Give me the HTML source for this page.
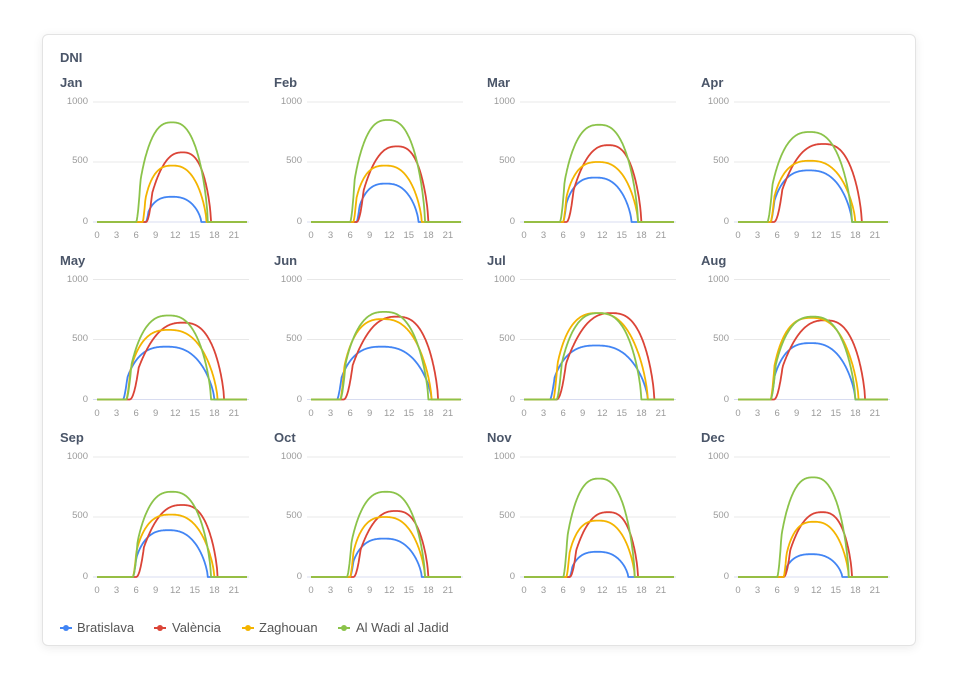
<!DOCTYPE html>
<html><head><meta charset="utf-8"><style>
body{margin:0;width:960px;height:691px;background:#fff;font-family:"Liberation Sans",Arial,sans-serif;position:relative;overflow:hidden}
.card{position:absolute;left:42px;top:34px;width:872px;height:610px;border:1px solid #e3e3e3;border-radius:6px;box-shadow:0 2px 10px rgba(0,0,0,0.08);background:#fff}
.p{position:absolute;width:214px;height:178px}
.t{position:absolute;left:60px;top:75px;font-size:13px;font-weight:bold;color:#4a5568}
.yl{position:absolute;font-size:9.5px;color:#9a9a9a;width:40px;text-align:right;left:48px}
.xl{position:absolute;top:230px;font-size:9.5px;color:#9a9a9a;width:20px;text-align:center}
.h{position:absolute;font-size:13px;font-weight:bold;color:#4a5568}
.lg{position:absolute;top:620px;font-size:13px;color:#555}
.mk{position:absolute;top:627px;width:12px;height:2px}
.mk:after{content:"";position:absolute;left:3px;top:-2px;width:6px;height:6px;border-radius:3px;background:inherit}
svg{position:absolute;left:0;top:0}
</style></head><body>
<div class="card"></div>
<div class="h" style="left:60px;top:50px">DNI</div>
<svg id="s" width="960" height="691"></svg>
<div class="mk" style="left:60px;background:#4285f4"></div><div class="lg" style="left:77px">Bratislava</div>
<div class="mk" style="left:154px;background:#db4437"></div><div class="lg" style="left:172px">València</div>
<div class="mk" style="left:242px;background:#f4b400"></div><div class="lg" style="left:259px">Zaghouan</div>
<div class="mk" style="left:338px;background:#8bc34a"></div><div class="lg" style="left:356px">Al Wadi al Jadid</div>

<div class="p" style="left:0;top:0"><div class="t">Jan</div></div>
<div class="p" style="left:214px;top:0"><div class="t">Feb</div></div>
<div class="p" style="left:427px;top:0"><div class="t">Mar</div></div>
<div class="p" style="left:641px;top:0"><div class="t">Apr</div></div>
<div class="p" style="left:0;top:177.5px"><div class="t">May</div></div>
<div class="p" style="left:214px;top:177.5px"><div class="t">Jun</div></div>
<div class="p" style="left:427px;top:177.5px"><div class="t">Jul</div></div>
<div class="p" style="left:641px;top:177.5px"><div class="t">Aug</div></div>
<div class="p" style="left:0;top:355px"><div class="t">Sep</div></div>
<div class="p" style="left:214px;top:355px"><div class="t">Oct</div></div>
<div class="p" style="left:427px;top:355px"><div class="t">Nov</div></div>
<div class="p" style="left:641px;top:355px"><div class="t">Dec</div></div>

<script>
var axis='<div class="yl" style="top:96px">1000</div><div class="yl" style="top:155px">500</div><div class="yl" style="top:216px">0</div>';
[0,3,6,9,12,15,18,21].forEach(function(h){axis+='<div class="xl" style="left:'+(87+h*6.52)+'px">'+h+'</div>';});
document.querySelectorAll('.p').forEach(function(p){p.insertAdjacentHTML('beforeend',axis);});
var cols=[0,214,427,641],rows=[0,177.5,355];
var cl=['#4285f4','#db4437','#f4b400','#8bc34a'];
var D=[
[[7.5,16,210],[7.5,17.5,580],[7,16.8,470],[6,17,830]],
[[7,16.5,320],[7,18,630],[6.5,17,470],[6,17.5,850]],
[[6,16.5,370],[6.5,18,640],[6,17.5,500],[5.5,17.5,810]],
[[5,17.5,430],[5.5,19,650],[5,18,510],[4.5,17.5,750]],
[[4,18,440],[5,19.5,640],[4.5,18.5,580],[4.5,17.5,700]],
[[4,18.5,440],[5,19.5,690],[4.5,18.5,670],[4.5,18,730]],
[[4,19,450],[5,20,720],[4.5,19,720],[5,18,720]],
[[5,18,470],[5.5,19.5,660],[5,18.5,680],[5,18,690]],
[[5.5,17,390],[6,18.5,600],[5.5,18,520],[5.5,17.5,710]],
[[6,17,320],[6.5,18,550],[6,17.5,500],[5.5,17.5,710]],
[[7,16,210],[7,17.5,540],[6.5,17,470],[6,17,820]],
[[7,16,190],[7,17.5,540],[7,17,460],[6,17,830]]];
var skew=[0.92,1.2,0.9,1];
function shape(t){var u=Math.abs(2*t-1);var b=1-Math.pow(u,2.6);b=Math.max(0,b);var r=Math.pow(b,0.7);
 if(t<0.06) r*=t/0.06*0.5+0.5*Math.min(1,t/0.06); return r;}
var s='';
for(var m=0;m<12;m++){
 var ox=cols[m%4],oy=rows[Math.floor(m/4)];
 [102,162,222].forEach(function(y){s+='<line x1="'+(ox+93)+'" x2="'+(ox+249)+'" y1="'+(oy+y)+'" y2="'+(oy+y)+'" stroke="'+(y==222?'#d8dcf0':'#e8e8e8')+'" stroke-width="1"/>';});
 for(var k=0;k<4;k++){
  var a=D[m][k],pts=[];
  for(var h=0;h<=23.001;h+=0.1){
   var v=0;
   if(h>a[0]&&h<a[1]){var t=(h-a[0])/(a[1]-a[0]);t=Math.pow(t,skew[k]);v=a[2]*shape(t);}
   pts.push((ox+97+h*6.52).toFixed(1)+','+(oy+222-v*0.12).toFixed(1));
  }
  s+='<polyline fill="none" stroke="'+cl[k]+'" stroke-width="1.8" stroke-linejoin="round" points="'+pts.join(' ')+'"/>';
 }
}
document.getElementById('s').innerHTML=s;
</script>
</body></html>
